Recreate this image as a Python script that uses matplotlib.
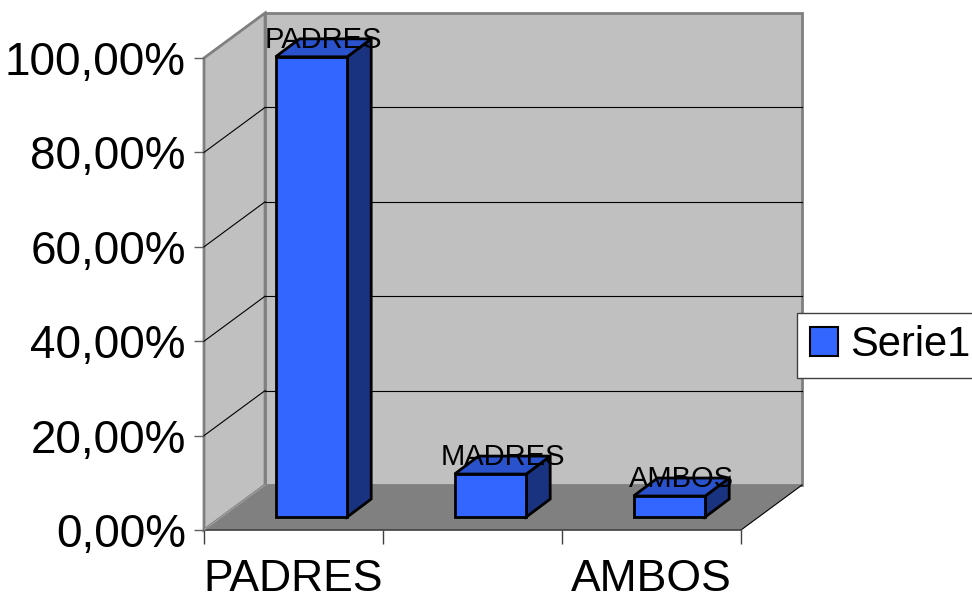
import matplotlib.pyplot as plt
from matplotlib.patches import Polygon, Patch

categories = ["PADRES", "MADRES", "AMBOS"]
values = [97.5, 9.1, 4.45]
yticks = [0, 20, 40, 60, 80, 100]
ytick_labels = ["0,00%", "20,00%", "40,00%", "60,00%", "80,00%", "100,00%"]
series_name = "Serie1"

# oblique depth of the plot box, in data units (categories, percent)
DX, DY = 0.341, 9.53
# bar placement inside the depth
BX, BY = 0.10, 2.75      # front face offset
BDX, BDY = 0.134, 3.81   # bar depth
BW = 0.40

plt.rcParams['font.family'] = ['Liberation Sans', 'DejaVu Sans']

fig = plt.figure(figsize=(9.72, 6.0), dpi=100)
ax = fig.add_axes([204 / 972, 70 / 600, 537 / 972, 472 / 600])
ax.set_xlim(0, 3)
ax.set_ylim(0, 100)
ax.set_facecolor('none')
for s in ax.spines.values():
    s.set_visible(False)

def poly(pts, fc, ec, lw, z):
    ax.add_patch(Polygon(pts, closed=True, facecolor=fc, edgecolor=ec,
                         linewidth=lw, zorder=z, clip_on=False))

top = 100
# back wall, side wall, floor
poly([(DX, DY), (3 + DX, DY), (3 + DX, top + DY), (DX, top + DY)], '#C0C0C0', '#808080', 2.0, 1)
poly([(0, 0), (DX, DY), (DX, top + DY), (0, top)], '#C0C0C0', '#808080', 2.0, 1)
poly([(0, 0), (3, 0), (3 + DX, DY), (DX, DY)], '#808080', 'none', 0, 1)
ax.plot([3, 3 + DX], [0, DY], color='black', lw=0.8, zorder=2, clip_on=False)
ax.plot([0, 3], [0, 0], color='#404040', lw=1.2, zorder=2, clip_on=False)
ax.plot([0, DX], [0, DY], color='#A0A0A0', lw=0.8, zorder=2, clip_on=False)

for v in yticks[1:-1]:
    ax.plot([DX, 3 + DX], [v + DY, v + DY], color='black', lw=0.8, zorder=2, clip_on=False)
    ax.plot([0, DX], [v, v + DY], color='black', lw=0.8, zorder=2, clip_on=False)

# bars
for i, (name, v) in enumerate(zip(categories, values)):
    x0 = i + 0.5 + BX - BW / 2
    x1 = x0 + BW
    y0 = BY
    y1 = BY + v
    poly([(x0, y0), (x1, y0), (x1, y1), (x0, y1)], '#3366FF', 'black', 2.0, 5)
    poly([(x1, y0), (x1 + BDX, y0 + BDY), (x1 + BDX, y1 + BDY), (x1, y1)], '#1A3380', 'black', 2.0, 4)
    poly([(x0, y1), (x1, y1), (x1 + BDX, y1 + BDY), (x0 + BDX, y1 + BDY)], '#2A52CC', 'black', 2.0, 4)
    ax.text(x0 + BW / 2 + BDX / 2, y1 + BDY / 2, name, ha='center', va='baseline',
            fontsize=21, zorder=6)

ax.set_yticks(yticks)
ax.set_yticklabels(ytick_labels)
ax.tick_params(axis='y', length=7, width=1, color='#606060', pad=6, labelsize=33)
ax.set_xticks([0, 1, 2, 3])
ax.set_xticklabels([])
ax.set_xticks([0.5, 2.5], minor=True)
ax.set_xticklabels([categories[0], categories[2]], minor=True)
ax.tick_params(axis='x', which='major', length=10, width=1, color='#404040')
ax.tick_params(axis='x', which='minor', length=0, pad=21, labelsize=32)

fig.legend(handles=[Patch(facecolor='#3366FF', edgecolor='black', linewidth=1.5, label=series_name)],
           loc='center left', bbox_to_anchor=(797 / 972, 1 - 345 / 600), fontsize=30,
           frameon=True, fancybox=False, edgecolor='#404040', framealpha=1,
           handlelength=0.68, handleheight=0.68, handletextpad=0.3, borderpad=0.3,
           borderaxespad=0)

fig.savefig('out.png', dpi=100)
